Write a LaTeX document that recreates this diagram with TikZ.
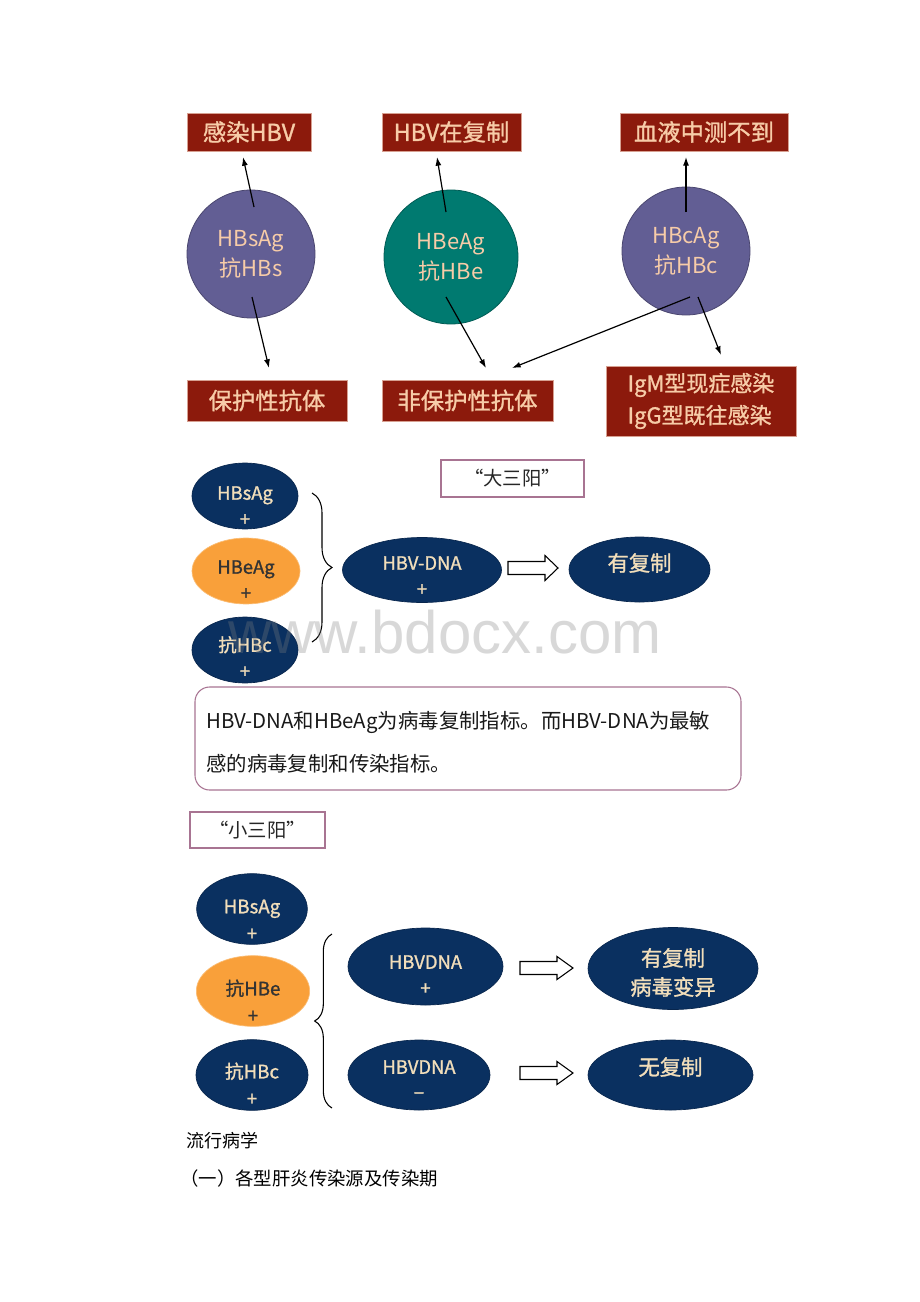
\documentclass[tikz,border=0pt]{standalone}
\usepackage{fontspec}
\setmainfont{Noto Sans CJK SC}
\newfontfamily\semib[FakeBold=1.2]{Noto Sans CJK SC}
\newfontfamily\wmfont{Liberation Sans}
\usetikzlibrary{shapes.geometric,arrows.meta,decorations.pathreplacing}
\definecolor{hbred}{RGB}{140,26,12}
\definecolor{hbredline}{RGB}{215,160,145}
\definecolor{peach}{RGB}{247,204,168}
\definecolor{hbpurple}{RGB}{98,94,148}
\definecolor{hbteal}{RGB}{0,122,112}
\definecolor{hbnavy}{RGB}{10,48,96}
\definecolor{hborange}{RGB}{249,160,58}
\definecolor{hbtan}{RGB}{242,222,186}
\definecolor{mauve}{RGB}{168,116,146}
\begin{document}
\begin{tikzpicture}[x=0.75pt,y=-0.75pt,
  redbox/.style={rectangle, fill=hbred, draw=hbredline, line width=0.5pt, text=peach, inner sep=0pt, font=\semib\fontsize{17.5}{24}\selectfont},
  bigcirc/.style={circle, draw=#1!75!black, fill=#1, line width=0.6pt, text=peach, inner sep=0pt, align=center, font=\fontsize{16.5}{22.5}\selectfont},
  navyel/.style={ellipse, fill=hbnavy, draw=hbnavy!80!black, line width=0.5pt, inner sep=0pt},
  orangeel/.style={ellipse, fill=hborange, draw=hborange!70!white, line width=0.5pt, inner sep=0pt},
  eltxt/.style={align=center, text=hbtan, inner sep=0pt, font=\semib\fontsize{13.8}{19.5}\selectfont},
  eltxtd/.style={align=center, text=black!80, inner sep=0pt, font=\semib\fontsize{13.8}{19.5}\selectfont},
  restxt/.style={align=center, text=hbtan, inner sep=0pt, font=\semib\fontsize{16}{21.75}\selectfont},
  qbox/.style={rectangle, draw=mauve, line width=0.8pt, inner sep=0pt, text=black!85, font=\fontsize{14.5}{18}\selectfont},
  arr/.style={-{Latex[length=6.5pt,width=4.5pt]}, line width=0.9pt, black},
  hollow/.style={draw=black, line width=0.8pt, fill=white},
  bracestyle/.style={decorate, line width=0.8pt, black}
]
\useasboundingbox (0,0) rectangle (920,1302);
\fill[white] (0,0) rectangle (920,1302);

% ---------- top section ----------
\node[redbox, minimum width=93pt, minimum height=28.5pt] (bA) at (249,132) {感染HBV};
\node[redbox, minimum width=104.25pt, minimum height=28.5pt] (bB) at (451.5,132) {HBV在复制};
\node[redbox, minimum width=126pt, minimum height=28.5pt] (bC) at (704,132) {血液中测不到};

\node[bigcirc=hbpurple, minimum size=96pt] (c1) at (251,254) {HBsAg\\抗HBs};
\node[bigcirc=hbteal, minimum size=100.5pt] (c2) at (451,257) {HBeAg\\抗HBe};
\node[bigcirc=hbpurple, minimum size=96pt] (c3) at (686,251) {HBcAg\\抗HBc};

\node[redbox, minimum width=120pt, minimum height=30.75pt] (bD) at (267,400.5) {保护性抗体};
\node[redbox, minimum width=128.25pt, minimum height=30.75pt] (bE) at (467.5,400.5) {非保护性抗体};
\node[redbox, minimum width=142.5pt, minimum height=52.5pt, align=left, font=\semib\fontsize{16.5}{24}\selectfont] (bF) at (701,401) {IgM型现症感染\\IgG型既往感染};

\coordinate (a1s) at (254,207); \coordinate (a1e) at (243,157);
\coordinate (a2s) at (252,297); \coordinate (a2e) at (269,368);
\coordinate (a3s) at (446,212); \coordinate (a3e) at (437,157);
\coordinate (a4s) at (446,297); \coordinate (a4e) at (486,368);
\coordinate (a5s) at (686,212); \coordinate (a5e) at (686,157);
\coordinate (a6s) at (690,297); \coordinate (a6e) at (512,368);
\coordinate (a7s) at (698,297); \coordinate (a7e) at (721,355);
\draw[arr] (a1s) -- (a1e);
\draw[arr] (a2s) -- (a2e);
\draw[arr] (a3s) -- (a3e);
\draw[arr] (a4s) -- (a4e);
\draw[arr] (a5s) -- (a5e);
\draw[arr] (a6s) -- (a6e);
\draw[arr] (a7s) -- (a7e);

% ---------- 大三阳 ----------
\node[qbox, minimum width=107.25pt, minimum height=27.75pt] (big3) at (512.5,478.5) {“大三阳”};

\node[navyel, minimum width=79.5pt, minimum height=49.5pt] (m1) at (245,496) {};
\node[eltxt] (m1t) at (245,506) {HBsAg\\+};
\node[orangeel, minimum width=81pt, minimum height=49.5pt] (m2) at (246,571) {};
\node[eltxtd] (m2t) at (246,580) {HBeAg\\+};
\node[navyel, minimum width=79.5pt, minimum height=49.5pt] (m3) at (245,650) {};
\node[eltxt] (m3t) at (245,657) {抗HBc\\+};

\coordinate (mbtop) at (312,493); \coordinate (mbbot) at (312,642);
\draw[bracestyle, decoration={brace, amplitude=15pt, aspect=0.5}] (mbtop) -- (mbbot);

\node[navyel, minimum width=119.25pt, minimum height=48.75pt] (m4) at (422,570) {};
\node[eltxt] (m4t) at (422,576) {HBV-DNA\\+};
\node[navyel, minimum width=105.75pt, minimum height=48.75pt] (m5) at (639.5,569.5) {};
\node[restxt] (m5t) at (639.5,563) {有复制};

\draw[hollow] (508,561.5) -- (545,561.5) -- (545,555.5) -- (558,568) -- (545,580.5) -- (545,574.5) -- (508,574.5) -- cycle;

% ---------- note ----------
\node[rectangle, draw=mauve, line width=0.8pt, rounded corners=11pt, minimum width=409.5pt, minimum height=77.25pt] (note) at (468,738.5) {};
\node[anchor=west, align=left, inner sep=0pt, text=black!90, font=\fontsize{15.3}{32.25}\selectfont] (notet) at (206,742.5) {HBV-DNA和HBeAg为病毒复制指标。而HBV-DNA为最敏\\感的病毒复制和传染指标。};

% ---------- 小三阳 ----------
\node[qbox, minimum width=101.25pt, minimum height=27pt] (small3) at (257.5,830) {“小三阳”};

\node[navyel, minimum width=83pt, minimum height=53pt] (s1) at (252,909) {};
\node[eltxt, font=\semib\fontsize{14}{20.25}\selectfont] (s1t) at (252,920) {HBsAg\\+};
\node[orangeel, minimum width=85pt, minimum height=53pt] (s2) at (253,991) {};
\node[eltxtd, font=\semib\fontsize{14}{20.25}\selectfont] (s2t) at (253,1001) {抗HBe\\+};
\node[navyel, minimum width=84pt, minimum height=53pt] (s3) at (252,1075) {};
\node[eltxt, font=\semib\fontsize{14}{20.25}\selectfont] (s3t) at (252,1084) {抗HBc\\+};

\coordinate (sbbot) at (332,1108); \coordinate (sbtop) at (332,934);
\draw[bracestyle, decoration={brace, amplitude=13pt, aspect=0.5}] (sbbot) -- (sbtop);

\node[navyel, minimum width=116.25pt, minimum height=57.75pt] (s4) at (425.5,966.5) {};
\node[eltxt] (s4t) at (425.5,975) {HBVDNA\\+};
\node[navyel, minimum width=106.5pt, minimum height=52.5pt] (s5) at (419,1075) {};
\node[eltxt] (s5t) at (419,1080) {HBVDNA\\−};

\draw[hollow] (520,961.5) -- (557,961.5) -- (557,956.5) -- (573,968) -- (557,979.5) -- (557,974.5) -- (520,974.5) -- cycle;
\draw[hollow] (520,1066.5) -- (557,1066.5) -- (557,1061.5) -- (573,1073) -- (557,1084.5) -- (557,1079.5) -- (520,1079.5) -- cycle;

\node[navyel, minimum width=127.5pt, minimum height=61.5pt] (s6) at (673,968.5) {};
\node[restxt] (s6t) at (673,972.5) {有复制\\病毒变异};
\node[navyel, minimum width=123.75pt, minimum height=52.5pt] (s7) at (670.5,1075) {};
\node[restxt] (s7t) at (670.5,1067) {无复制};

% ---------- bottom text ----------
\node[anchor=west, inner sep=0pt, text=black, font=\fontsize{13.5}{16}\selectfont] (sec) at (186,1141) {流行病学};
\node[anchor=west, inner sep=0pt, text=black, font=\fontsize{13.8}{16}\selectfont] (sub) at (180,1178) {（一）各型肝炎传染源及传染期};

% ---------- watermark ----------
\node[inner sep=0pt, text=gray, text opacity=0.3, font=\wmfont\fontsize{45}{50}\selectfont] (wm) at (445,632) {www.bdocx.com};
\end{tikzpicture}
\end{document}
